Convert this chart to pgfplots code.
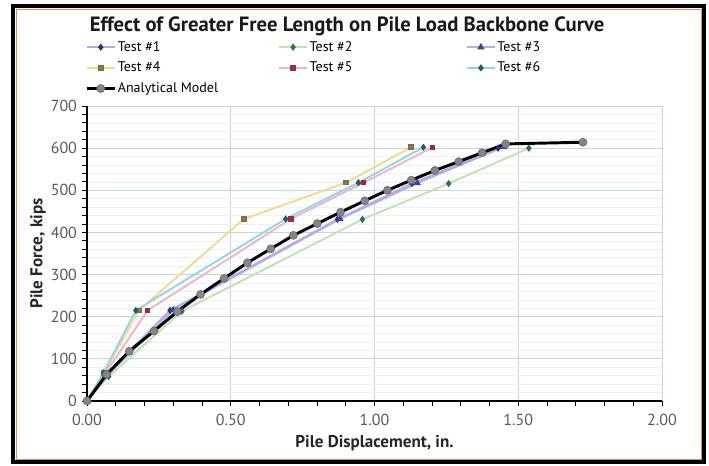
\documentclass[border=0pt]{standalone}
\usepackage{pgfplots}
\pgfplotsset{compat=1.18}
\usepackage{fontspec}
\setmainfont{PT Sans}
\definecolor{gridc}{HTML}{C4D4E2}
\definecolor{minorgridc}{HTML}{EEF1F4}
\definecolor{tickc}{HTML}{5A5A5A}
\definecolor{lineA}{HTML}{B9A9E3}
\definecolor{markA}{HTML}{2E2E7A}
\definecolor{lineB}{HTML}{BFE3B0}
\definecolor{markB}{HTML}{2E7050}
\definecolor{lineC}{HTML}{A9B3EA}
\definecolor{markC}{HTML}{3346A8}
\definecolor{lineD}{HTML}{F2D98E}
\definecolor{markD}{HTML}{8A6A40}
\definecolor{lineE}{HTML}{F2B3C3}
\definecolor{markE}{HTML}{A02840}
\definecolor{lineF}{HTML}{8FD5E6}
\definecolor{markF}{HTML}{1E5E68}
\definecolor{anfill}{HTML}{858585}
\definecolor{framec}{HTML}{E08A60}
\begin{document}
\begin{tikzpicture}
\path[use as bounding box] (-65.25pt,-48.75pt) rectangle (466.5pt,300.75pt);
\fill[white] (-65.25pt,-48.75pt) rectangle (466.5pt,300.75pt);
\begin{axis}[
  at={(0,0)}, anchor=south west, scale only axis,
  width=431.25pt, height=221.25pt,
  xmin=0, xmax=2, ymin=0, ymax=700,
  xtick={0,0.5,1,1.5,2}, ytick={0,100,...,700},
  minor x tick num=4, minor y tick num=4,
  axis lines*=left,
  axis line style={black, line width=0.9pt},
  tick align=outside, major tick length=4pt, minor tick length=3.5pt,
  tick style={black, line width=0.6pt},
  xmajorgrids, ymajorgrids, yminorgrids,
  major grid style={color=gridc, line width=0.6pt},
  minor grid style={color=minorgridc, line width=0.5pt},
  /pgf/number format/assume math mode=true,
  xticklabel style={yshift=-2.5pt, /pgf/number format/.cd, fixed, fixed zerofill, precision=2},
  yticklabel style={/pgf/number format/.cd, fixed},
  ticklabel style={font=\fontsize{12}{14}\selectfont, text=tickc},
  xlabel={Pile Displacement, in.},
  ylabel={Pile Force, kips},
  label style={font=\bfseries\fontsize{12.8}{14}\selectfont, text=black!85},
  x label style={at={(axis description cs:0.5,-0.1424)}, anchor=center},
  y label style={at={(axis description cs:-0.0852,0.5)}, anchor=center, rotate=0},
  legend columns=3,
  legend style={at={(axis description cs:-0.003,1.225)}, anchor=north west,
    draw=none, fill=none, font=\fontsize{10.5}{12}\selectfont,
    row sep=4.1pt, column sep=0pt, inner sep=0pt, outer sep=0pt,
    nodes={inner sep=1.2pt}},
  legend cell align=left,
  legend image code/.code={\draw[mark repeat=2,mark phase=2] plot coordinates {(0cm,0cm) (0.37cm,0cm) (0.74cm,0cm)};},
]
\addplot[lineA, line width=1.4pt, mark=diamond*, mark size=1.6pt, mark options={draw=markA, fill=markA}] coordinates {(0,0) (0.065,62) (0.289,215) (0.871,431) (1.13,516) (1.43,600)};
\addlegendentry{\makebox[119pt][l]{Test \#1}}
\addplot[lineB, line width=1.4pt, mark=diamond*, mark size=1.6pt, mark options={draw=markB, fill=markB}] coordinates {(0,0) (0.075,58) (0.33,213) (0.958,431) (1.258,516) (1.537,600)};
\addlegendentry{\makebox[116pt][l]{Test \#2}}
\addplot[lineC, line width=1.4pt, mark=triangle*, mark size=1.8pt, mark options={draw=markC, fill=markC}] coordinates {(0,0) (0.07,60) (0.30,216) (0.88,432) (1.149,517) (1.45,603)};
\addlegendentry{Test \#3}
\addplot[lineD, line width=1.4pt, mark=square*, mark size=1.4pt, mark options={draw=markD, fill=anfill}] coordinates {(0,0) (0.06,66) (0.18,215) (0.546,432) (0.901,518) (1.127,602)};
\addlegendentry{\makebox[119pt][l]{Test \#4}}
\addplot[lineE, line width=1.4pt, mark=square*, mark size=1.3pt, mark options={draw=markE, fill=markE}] coordinates {(0,0) (0.062,64) (0.211,215) (0.709,432) (0.962,518) (1.202,602)};
\addlegendentry{\makebox[116pt][l]{Test \#5}}
\addplot[lineF, line width=1.4pt, mark=diamond*, mark size=1.6pt, mark options={draw=markF, fill=markF}] coordinates {(0,0) (0.057,67) (0.17,215) (0.691,432) (0.944,518) (1.17,602)};
\addlegendentry{Test \#6}
\addplot[black, line width=2.2pt, mark=*, mark size=3pt, mark options={draw=anfill!80!black, fill=anfill, line width=0.5pt}] coordinates {(0,0) (0.068,63) (0.147,118) (0.233,166) (0.314,212) (0.395,253) (0.477,291) (0.558,328) (0.639,361) (0.718,393) (0.801,421) (0.882,448) (0.966,475) (1.045,500) (1.128,524) (1.21,547) (1.293,568) (1.374,589) (1.456,610) (1.725,614)};
\addlegendentry{\makebox[119pt][l]{Analytical Model}}
\end{axis}
\node[font=\bfseries\fontsize{15.5}{17}\selectfont, text=black!90] at (195pt,281pt) {Effect of Greater Free Length on Pile Load Backbone Curve};
\draw[framec, line width=0.6pt] (-53.25pt,-43.5pt) rectangle (460.5pt,294pt);
\draw[black, line width=2.4pt] (-55.5pt,-45.75pt) rectangle (462.75pt,296.25pt);
\end{tikzpicture}
\end{document}
